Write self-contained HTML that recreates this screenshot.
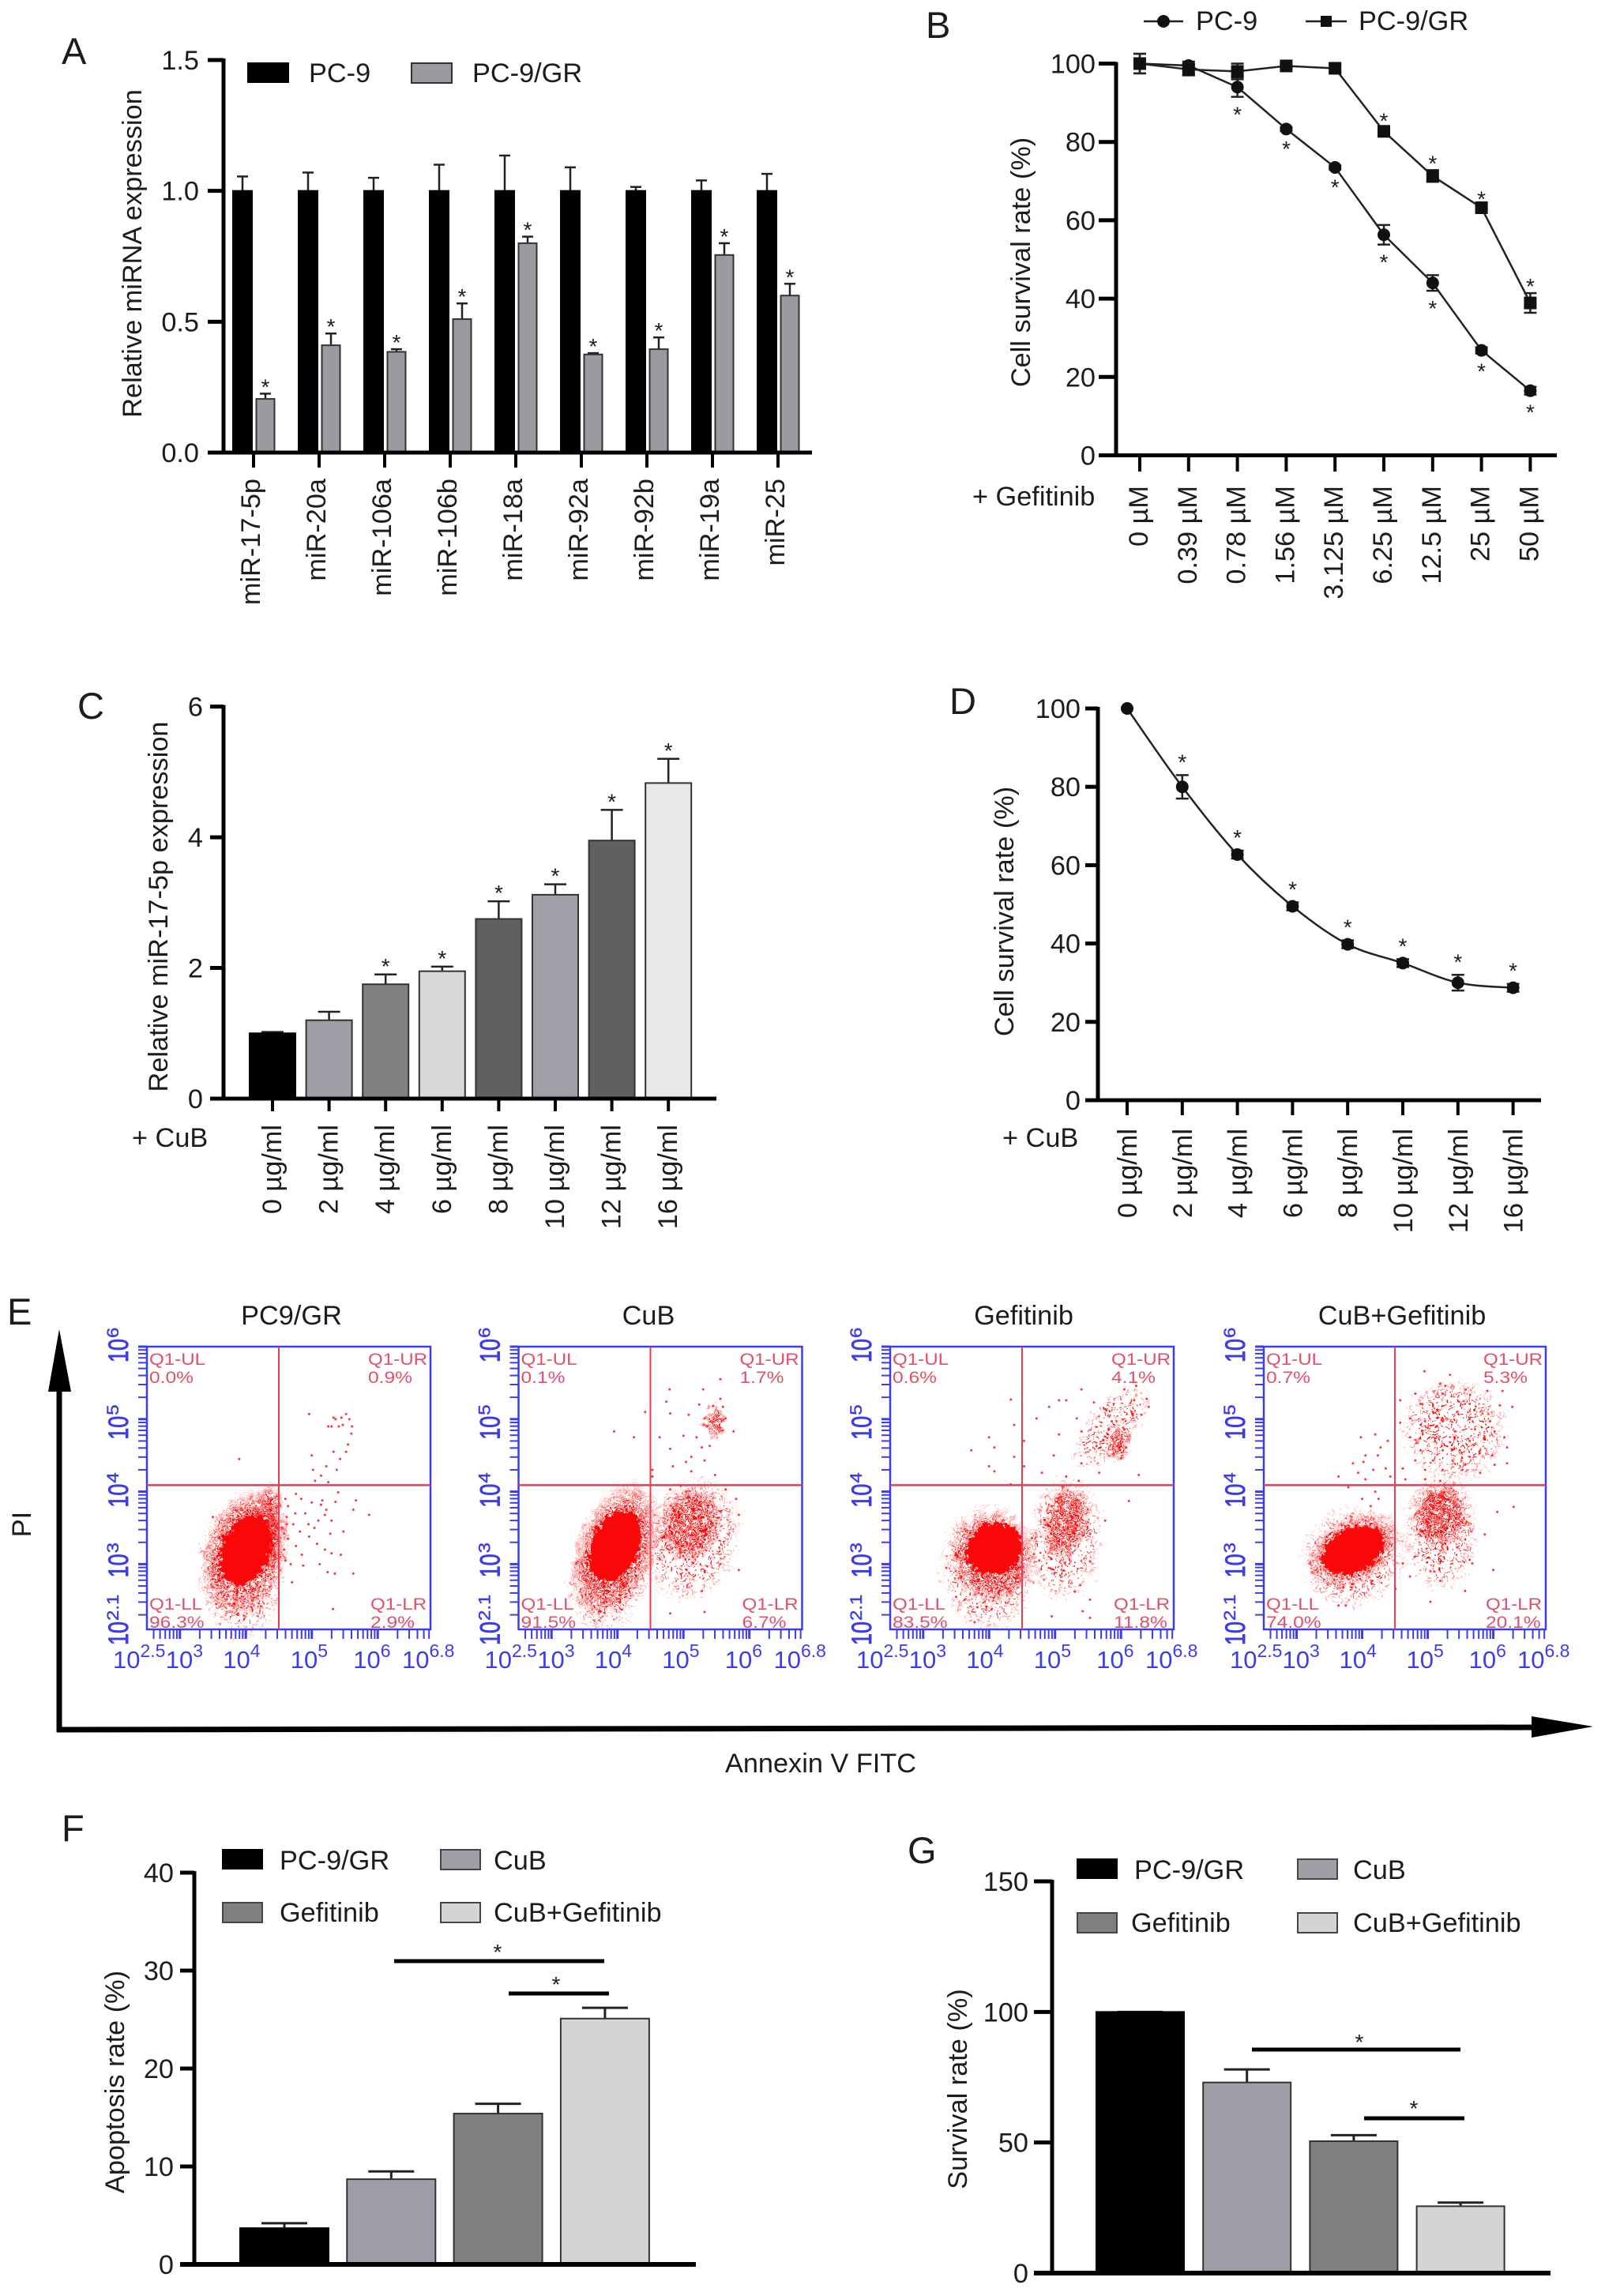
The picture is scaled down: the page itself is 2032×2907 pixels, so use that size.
<!DOCTYPE html>
<html lang="en">
<head>
<meta charset="utf-8">
<title>Figure panels A-G</title>
<style>
html,body{margin:0;padding:0;background:#fff}
svg{display:block}
text{font-family:"Liberation Sans",sans-serif;fill:#1c1c1c;font-size:34.3px}
.letter{font-size:47px}
</style>
</head>
<body>
<svg id="fig" xmlns="http://www.w3.org/2000/svg" width="2032" height="2907" viewBox="0 0 2032 2907">
<defs>
<filter id="coreRough" x="-25%" y="-25%" width="150%" height="150%" color-interpolation-filters="sRGB"><feTurbulence type="fractalNoise" baseFrequency="0.18" numOctaves="2" seed="3" result="n"/><feDisplacementMap in="SourceGraphic" in2="n" scale="18" xChannelSelector="R" yChannelSelector="G"/></filter>
<filter id="jitter" x="-15%" y="-15%" width="130%" height="130%" color-interpolation-filters="sRGB"><feTurbulence type="fractalNoise" baseFrequency="0.12" numOctaves="2" seed="7" result="n"/><feDisplacementMap in="SourceGraphic" in2="n" scale="22" xChannelSelector="R" yChannelSelector="G"/></filter>
<radialGradient id="fadeGrad"><stop offset="0.62" stop-color="#fff"/><stop offset="1" stop-color="#000"/></radialGradient>
<mask id="fadeMask" maskContentUnits="objectBoundingBox" x="0" y="0" width="1" height="1"><rect width="1" height="1" fill="url(#fadeGrad)"/></mask>
<pattern id="stippleLight" width="36" height="34" patternUnits="userSpaceOnUse"></pattern>
<pattern id="stippleDense" width="18" height="17" patternUnits="userSpaceOnUse"></pattern>
</defs>
<rect width="2032" height="2907" fill="#fff"/>

<g id="panel-a">
<text class="letter" x="78" y="81">A</text>
<text transform="translate(179,321) rotate(-90)" text-anchor="middle">Relative miRNA expression</text>
<rect x="313" y="79" width="53" height="26" fill="#000"/>
<text x="391" y="104">PC-9</text>
<rect x="521" y="80" width="51" height="25" fill="#9a9aa0" stroke="#333" stroke-width="2"/>
<text x="598" y="104">PC-9/GR</text>
</g>

<g id="panel-b">
<text class="letter" x="1172" y="48">B</text>
<text transform="translate(1304,332) rotate(-90)" text-anchor="middle">Cell survival rate (%)</text>
<text x="1231" y="640">+ Gefitinib</text>
<line x1="1448" y1="27" x2="1498" y2="27" stroke="#222" stroke-width="2.5"/>
<circle cx="1473" cy="27" r="8" fill="#111"/>
<text x="1514" y="38">PC-9</text>
<line x1="1653" y1="27" x2="1705" y2="27" stroke="#222" stroke-width="2.5"/>
<rect x="1672" y="20" width="14" height="14" fill="#111"/>
<text x="1720" y="38">PC-9/GR</text>
</g>

<g id="panel-c">
<text class="letter" x="98" y="910">C</text>
<text transform="translate(212,1148) rotate(-90)" text-anchor="middle">Relative miR-17-5p expression</text>
<text x="167" y="1452">+ CuB</text>
</g>

<g id="panel-d">
<text class="letter" x="1202" y="904">D</text>
<text transform="translate(1283,1154) rotate(-90)" text-anchor="middle">Cell survival rate (%)</text>
<text x="1269" y="1452">+ CuB</text>
</g>

<g id="panel-e">
<text class="letter" x="9" y="1677">E</text>
<text x="369" y="1677" text-anchor="middle">PC9/GR</text>
<text x="821" y="1677" text-anchor="middle">CuB</text>
<text x="1296" y="1677" text-anchor="middle">Gefitinib</text>
<text x="1775" y="1677" text-anchor="middle">CuB+Gefitinib</text>
<text transform="translate(39,1930) rotate(-90)" text-anchor="middle">PI</text>
<text x="1039" y="2244" text-anchor="middle">Annexin V FITC</text>
<line x1="75" y1="1755" x2="75" y2="2193" stroke="#000" stroke-width="7"/>
<polygon points="75,1683 90,1762 61,1762" fill="#000"/>
<line x1="72" y1="2190" x2="1945" y2="2187" stroke="#000" stroke-width="7"/>
<polygon points="2017,2186 1939,2173 1939,2200" fill="#000"/>
</g>

<g id="panel-f">
<text class="letter" x="78" y="2331">F</text>
<text transform="translate(157,2636) rotate(-90)" text-anchor="middle">Apoptosis rate (%)</text>
<rect x="281" y="2341" width="52" height="26" fill="#000"/>
<text x="354" y="2367">PC-9/GR</text>
<rect x="558" y="2342" width="50" height="25" fill="#9e9ea6" stroke="#444" stroke-width="2"/>
<text x="625" y="2367">CuB</text>
<rect x="282" y="2409" width="50" height="25" fill="#808080" stroke="#444" stroke-width="2"/>
<text x="354" y="2433">Gefitinib</text>
<rect x="558" y="2409" width="50" height="25" fill="#d4d4d4" stroke="#444" stroke-width="2"/>
<text x="625" y="2433">CuB+Gefitinib</text>
<line x1="499" y1="2483" x2="765" y2="2483" stroke="#000" stroke-width="5"/>
<line x1="644" y1="2524" x2="771" y2="2524" stroke="#000" stroke-width="5"/>
<text x="630" y="2481" text-anchor="middle" style="font-size:28px">*</text>
<text x="704" y="2522" text-anchor="middle" style="font-size:28px">*</text>
</g>

<g id="panel-g">
<text class="letter" x="1149" y="2359">G</text>
<text transform="translate(1224,2645) rotate(-90)" text-anchor="middle">Survival rate (%)</text>
<rect x="1363" y="2353" width="52" height="26" fill="#000"/>
<text x="1436" y="2379">PC-9/GR</text>
<rect x="1643" y="2354" width="50" height="25" fill="#9e9ea6" stroke="#444" stroke-width="2"/>
<text x="1713" y="2379">CuB</text>
<rect x="1364" y="2422" width="50" height="25" fill="#808080" stroke="#444" stroke-width="2"/>
<text x="1432" y="2446">Gefitinib</text>
<rect x="1643" y="2422" width="50" height="25" fill="#d4d4d4" stroke="#444" stroke-width="2"/>
<text x="1713" y="2446">CuB+Gefitinib</text>
<line x1="1585" y1="2595" x2="1849" y2="2595" stroke="#000" stroke-width="5"/>
<line x1="1727" y1="2682" x2="1854" y2="2682" stroke="#000" stroke-width="5"/>
<text x="1721" y="2595" text-anchor="middle" style="font-size:28px">*</text>
<text x="1790" y="2679" text-anchor="middle" style="font-size:28px">*</text>
</g>
</svg>

<script>
/* ---------- Panel A data ---------- */
const aCategories = ['miR-17-5p','miR-20a','miR-106a','miR-106b','miR-18a','miR-92a','miR-92b','miR-19a','miR-25'];
const aPc9Values = [1,1,1,1,1,1,1,1,1];
const aPc9ErrorTops = [1.055,1.07,1.05,1.10,1.135,1.09,1.015,1.04,1.065];
const aGrValues = [0.205,0.41,0.385,0.51,0.80,0.375,0.395,0.755,0.60];
const aGrErrorTops = [0.225,0.455,0.395,0.57,0.825,0.38,0.44,0.80,0.645];
const aYTicks = [0,0.5,1,1.5];
const aYLabels = ['0.0','0.5','1.0','1.5'];

/* ---------- Panel B data ---------- */
const bCategories = ['0 µM','0.39 µM','0.78 µM','1.56 µM','3.125 µM','6.25 µM','12.5 µM','25 µM','50 µM'];
const bPc9Values = [100,99.5,94,83.3,73.5,56.3,44,26.8,16.5];
const bPc9Errors = [2.5,1,2.5,0.5,0.5,2.5,2,0.8,1];
const bGrValues = [100,98.5,98,99.4,98.8,82.7,71.3,63.2,38.9];
const bGrErrors = [2.5,1.5,2,0.5,1,1,1.5,0.5,2.5];
const bPc9Stars = [2,3,4,5,6,7,8];
const bGrStars = [5,6,7,8];
const bYTicks = [0,20,40,60,80,100];

/* ---------- Panel C data ---------- */
const cCategories = ['0 µg/ml','2 µg/ml','4 µg/ml','6 µg/ml','8 µg/ml','10 µg/ml','12 µg/ml','16 µg/ml'];
const cValues = [1.0,1.2,1.75,1.95,2.75,3.12,3.95,4.83];
const cErrorTops = [1.02,1.33,1.9,2.02,3.02,3.28,4.42,5.2];
const cFills = ['#000','#9e9ea6','#808080','#d8d8d8','#606060','#a0a0a8','#606060','#e8e8e8'];
const cStars = [2,3,4,5,6,7];
const cYTicks = [0,2,4,6];

/* ---------- Panel D data ---------- */
const dCategories = ['0 µg/ml','2 µg/ml','4 µg/ml','6 µg/ml','8 µg/ml','10 µg/ml','12 µg/ml','16 µg/ml'];
const dValues = [100,80,62.7,49.5,39.8,35,30,28.7];
const dErrors = [0,3,1,1,1,1,2,1];
const dYTicks = [0,20,40,60,80,100];

/* ---------- Panel E data: log10 annexin, log10 PI ---------- */
const flowQuadrants = ['Q1-UL','Q1-UR','Q1-LL','Q1-LR'];
const flowXTicks = [2.5,3,4,5,6,6.8];
const flowXLabels = ['2.5','3','4','5','6','6.8'];
const flowYTicks = [2.1,3,4,5,6];
const flowYLabels = ['2.1','3','4','5','6'];
const flowGateX = 4.5;
const flowGateY = 4.09;

const e1Percent = ['0.0%','0.9%','96.3%','2.9%'];
const e2Percent = ['0.1%','1.7%','91.5%','6.7%'];
const e3Percent = ['0.6%','4.1%','83.5%','11.8%'];
const e4Percent = ['0.7%','5.3%','74.0%','20.1%'];

/* clusters: centre log x, centre log y, spread log x, spread log y, tilt */
const e1Cores = [[4.0,3.19,0.36,0.5,22]];
const e1Dense = [[4.0,3.15,0.5,0.72,15],[4.3,3.5,0.2,0.5,8]];
const e1Light = [[3.93,2.95,0.52,0.8,0]];
const e2Cores = [[3.97,3.25,0.36,0.52,25]];
const e2Dense = [[3.97,3.2,0.47,0.78,20],[5.1,3.55,0.38,0.42,22],[5.48,4.96,0.12,0.2,0]];
const e2Light = [[3.9,2.95,0.5,0.75,15],[5.12,3.35,0.58,0.7,15]];
const e3Cores = [[4.08,3.21,0.44,0.35,-22]];
const e3Dense = [[4.05,3.1,0.52,0.5,-10],[5.17,3.57,0.28,0.42,12],[5.97,4.66,0.13,0.2,12]];
const e3Light = [[3.98,2.95,0.58,0.7,0],[5.15,3.35,0.45,0.7,5],[5.85,4.9,0.28,0.58,40]];
const e4Cores = [[3.87,3.19,0.5,0.3,-28]];
const e4Dense = [[3.87,3.19,0.6,0.36,-28],[5.19,3.67,0.34,0.36,0]];
const e4Light = [[3.87,3.1,0.66,0.55,-25],[5.2,3.45,0.46,0.65,0],[5.4,4.85,0.66,0.56,0]];

const e1Points = [[4.96,5.07],[5.52,5.07],[5.33,5.02],[5.25,4.9],[5.41,4.9],[5.61,4.9],[5.57,5.0],[5.6,4.8],[5.55,4.65],[5.52,4.55],[5.33,4.55],[5.0,4.5],[5.43,4.45],[5.22,4.35],[5.02,4.3],[5.38,4.3],[5.14,4.22],[5.05,4.15],[5.25,4.13],[3.9,4.45],[5.36,5.0],[5.45,5.02],[5.47,4.92],[5.3,4.9],
[4.76,3.97],[5.4,3.99],[5.67,3.88],[5.16,3.88],[5.36,3.86],[4.84,3.9],[4.64,3.8],[5.2,3.68],[5.63,3.75],[5.87,3.68],[4.72,3.55],[5.04,3.5],[5.28,3.42],[5.48,3.45],[4.64,3.35],[4.96,3.38],[4.76,3.25],[5.2,3.2],[4.85,3.13],[5.12,3.0],[4.68,3.0],[4.87,2.98],[5.24,2.89],[5.35,2.87],[5.63,2.87],[5.44,3.13],[5.32,2.38],[4.55,3.5],[4.6,3.05],[4.7,2.75],[4.62,3.65],[4.9,3.7],[5.1,3.6],[5.3,3.6],[4.58,3.2],[5.08,3.28],[5.3,3.15],[5.14,3.82],[3.5,3.65],[3.55,2.45],[3.88,2.32],[4.1,2.5],[4.75,3.7],[4.95,3.55],[4.82,3.45],[5.0,3.85],[5.22,3.75],[4.6,3.9],[4.58,3.42],[4.62,3.55]];
const e2Points = [[5.56,5.55],[4.79,5.41],[5.3,5.41],[4.74,5.24],[5.24,5.2],[5.56,5.28],[5.45,5.18],[5.6,5.17],[4.42,5.1],[4.8,5.08],[5.08,5.06],[5.32,5.01],[5.64,5.01],[5.76,4.83],[5.42,4.97],[5.36,4.9],[5.56,4.88],[3.95,4.83],[4.25,4.75],[4.64,4.75],[5.2,4.75],[5.0,4.77],[5.28,4.61],[5.4,4.63],[4.8,4.59],[5.12,4.48],[5.32,4.43],[4.84,4.35],[5.04,4.41],[5.48,4.23],[5.12,4.28],[4.53,4.3],[4.53,4.21],
[5.64,4.03],[4.96,4.08],[4.8,4.03],[5.84,3.68],[5.8,3.9],[5.84,2.92],[5.32,2.34],[4.8,2.32],[5.28,2.63],[5.36,2.97],[5.56,3.0]];
const e3Points = [[4.33,5.27],[5.4,5.41],[5.17,5.26],[4.91,5.17],[5.06,5.26],[5.59,5.23],[6.05,5.41],[6.23,5.46],[5.89,5.21],[6.2,5.26],[6.39,5.28],[6.42,5.17],[6.16,5.1],[6.31,5.06],[5.78,5.12],[5.33,5.01],[4.72,5.01],[5.06,4.79],[5.4,4.83],[5.86,4.97],[5.82,4.86],[5.93,4.75],[6.0,4.66],[6.08,4.61],[5.63,4.63],[5.89,4.52],[6.0,4.46],[4.38,4.92],[4.0,4.75],[4.08,4.61],[3.73,4.57],[4.38,4.48],[4.98,4.5],[5.4,4.39],[4.0,4.35],[4.08,4.28],[4.53,4.35],[4.33,4.1],[4.8,4.26],[5.17,4.21],[5.36,4.15],[5.67,4.26],[6.27,4.23],[4.53,4.7],[5.1,4.08],
[6.12,3.87],[5.76,3.6],[5.53,3.42],[5.38,2.71],[5.3,2.62],[5.53,2.51],[4.95,2.28],[5.53,2.26],[5.42,2.35],[4.65,3.36],[4.68,3.14],[4.76,3.05],[5.53,3.04],[3.63,2.51],[3.78,2.2],[4.04,2.38],[3.5,2.55],[3.35,2.95]];
const e4Points = [[4.95,5.66],[5.34,5.61],[5.19,5.49],[5.27,5.46],[5.58,5.41],[5.91,5.39],[6.14,5.39],[4.81,5.35],[5.23,5.35],[4.58,5.26],[4.89,5.21],[5.08,5.19],[5.64,5.21],[5.45,5.1],[6.1,5.19],[6.29,5.17],[5.08,5.1],[4.73,5.01],[4.58,4.95],[4.96,4.97],[5.23,4.97],[5.64,5.01],[5.95,4.97],[5.0,4.88],[5.42,4.83],[5.72,4.86],[6.02,4.83],[4.73,4.75],[5.11,4.7],[5.34,4.68],[5.64,4.7],[6.17,4.75],[6.21,4.61],[4.89,4.57],[5.23,4.57],[5.49,4.57],[5.8,4.57],[5.98,4.5],[4.81,4.43],[5.08,4.43],[5.38,4.43],[5.64,4.48],[6.02,4.37],[6.21,4.39],[4.62,4.32],[4.96,4.3],[5.23,4.3],[5.53,4.3],[5.8,4.26],[4.96,4.17],[5.19,4.15],[4.66,4.17],[5.57,4.37],[3.98,4.75],[4.2,4.79],[4.28,4.61],[4.39,4.7],[4.05,4.5],[4.24,4.5],[3.86,4.39],[4.02,4.41],[4.17,4.3],[4.36,4.32],[3.64,4.21],[3.94,4.26],[4.43,4.21],[3.79,4.06],[4.05,4.17],
[5.04,2.48],[6.06,3.72],[6.31,3.79],[5.87,3.41],[5.64,3.06],[5.68,3.01],[5.45,3.23],[4.73,2.83],[5.19,2.77],[5.57,2.63],[4.62,3.01],[6.0,2.92],[4.51,2.66],[4.8,3.1],[5.1,2.9],[3.75,2.43],[3.64,2.43],[4.13,3.8],[4.25,3.9],[4.05,3.6],[4.2,4.0],[4.0,3.9]];

/* ---------- Panel F / G data ---------- */
const fValues = [3.7,8.7,15.4,25.1];
const fErrorTops = [4.2,9.5,16.4,26.2];
const fYTicks = [0,10,20,30,40];
const gValues = [100,73,50.5,25.6];
const gErrorTops = [100,78,52.8,27];
const gYTicks = [0,50,100,150];
const summaryFills = ['#000','#9e9ea6','#808080','#d4d4d4'];

/* decorative stipple tile */
const stippleTile = [[2,3],[9,1],[17,4],[25,2],[32,6],[5,9],[13,11],[21,8],[29,12],[1,15],[8,17],[16,15],[24,18],[33,19],[4,23],[12,22],[20,25],[28,24],[7,29],[15,30],[23,31],[31,29],[11,6],[19,20],[27,28],[3,32]];

/* ---------- helpers ---------- */
const SVGNS = 'http://www.w3.org/2000/svg';
const INK = '#222';
function mk(tag, attrs, parent, content) {
  const n = document.createElementNS(SVGNS, tag);
  for (const k in attrs) n.setAttribute(k, attrs[k]);
  if (content !== undefined) n.textContent = content;
  parent.appendChild(n);
  return n;
}
function axisLine(parent, x1, y1, x2, y2, w) {
  const n = mk('line', {x1, y1, x2, y2, stroke: '#000', 'stroke-width': w}, parent);
  
  
}
function yAxis(parent, ticks, labels, scale, axisX, tickX, labelEnd) {
  axisLine(parent, axisX, scale(ticks[ticks.length - 1]) - 2, axisX, scale(ticks[0]) + 2, 5);
  ticks.forEach((t, i) => {
    const y = scale(t);
    const tick = mk('line', {x1: tickX, y1: y, x2: axisX, y2: y, stroke: '#000', 'stroke-width': 5}, parent);
    
    
    const lab = mk('text', {x: labelEnd, y: y + 12, 'text-anchor': 'end'}, parent, labels[i]);
    
    
  });
}
function xTicks(parent, cats, xf, y0, tickEnd, labelTop, labelShift) {
  cats.forEach((c, i) => {
    const x = xf(i);
    const tick = mk('line', {x1: x, y1: y0, x2: x, y2: tickEnd, stroke: '#000', 'stroke-width': 4}, parent);
    
    
    const lab = mk('text', {transform: `translate(${x + labelShift},${labelTop}) rotate(-90)`, 'text-anchor': 'end'}, parent, c);
    
    
  });
}
function bar(parent, cx, w, yTop, yBase, fill) {
  const r = mk('rect', {x: cx - w / 2, y: yTop, width: w, height: yBase - yTop, fill, stroke: fill === '#000' ? '#000' : '#333', 'stroke-width': 2}, parent);
  
  
}
function errorUp(parent, cx, yFrom, yTo, cap, w) {
  const s = mk('line', {x1: cx, y1: yFrom, x2: cx, y2: yTo, stroke: INK, 'stroke-width': w}, parent);
  
  
  const c = mk('line', {x1: cx - cap / 2, y1: yTo, x2: cx + cap / 2, y2: yTo, stroke: INK, 'stroke-width': w}, parent);
  
  
}
function star(parent, x, yCentre) {
  const s = mk('text', {x, y: yCentre + 17, 'text-anchor': 'middle', style: 'font-size:28px'}, parent, '*');
  
  
}
function trace(parent, pts) {
  const l = mk('polyline', {points: pts.map(p => p.join(',')).join(' '), fill: 'none', stroke: INK, 'stroke-width': 2.5}, parent);
  
  
}
function smoothTrace(parent, pts) {
  let d = `M${pts[0][0]},${pts[0][1]}`;
  for (let i = 0; i < pts.length - 1; i++) {
    const p0 = pts[Math.max(i - 1, 0)], p1 = pts[i], p2 = pts[i + 1], p3 = pts[Math.min(i + 2, pts.length - 1)];
    d += ` C${p1[0] + (p2[0] - p0[0]) / 6},${p1[1] + (p2[1] - p0[1]) / 6} ${p2[0] - (p3[0] - p1[0]) / 6},${p2[1] - (p3[1] - p1[1]) / 6} ${p2[0]},${p2[1]}`;
  }
  const l = mk('path', {d, fill: 'none', stroke: INK, 'stroke-width': 2.5}, parent);
  
  
}
function dot(parent, x, y) {
  const c = mk('circle', {cx: x, cy: y, r: 8, fill: '#111'}, parent);
  
  
}
function square(parent, x, y) {
  const r = mk('rect', {x: x - 8, y: y - 8, width: 16, height: 16, fill: '#111'}, parent);
  
  
}
function vError(parent, x, y1, y2) {
  const s = mk('line', {x1: x, y1, x2: x, y2, stroke: INK, 'stroke-width': 2.5}, parent);
  
  
  [y1, y2].forEach(y => {
    const c = mk('line', {x1: x - 8, y1: y, x2: x + 8, y2: y, stroke: INK, 'stroke-width': 2.5}, parent);
    
    
  });
}

/* ---------- stipple patterns ---------- */
stippleTile.forEach(p => {
  mk('circle', {cx: p[0], cy: p[1], r: 1.5, fill: '#f11'}, document.getElementById('stippleLight'));
  mk('circle', {cx: p[0] / 2, cy: p[1] / 2, r: 1.3, fill: '#f00'}, document.getElementById('stippleDense'));
});

/* ---------- Panel A ---------- */
(function () {
  const g = document.getElementById('panel-a');
  const y = v => 573 - v / 1.5 * 497;
  const x = i => 321 + 83 * i;
  aCategories.forEach((c, i) => {
    errorUp(g, x(i) - 14, y(aPc9Values[i]), y(aPc9ErrorTops[i]), 14, 2.5);
    bar(g, x(i) - 14, 24, y(aPc9Values[i]), y(0), '#000');
    errorUp(g, x(i) + 15, y(aGrValues[i]), y(aGrErrorTops[i]), 14, 2.5);
    bar(g, x(i) + 15, 23, y(aGrValues[i]), y(0), '#9a9aa0');
    star(g, x(i) + 15, y(aGrErrorTops[i]) - 16);
  });
  yAxis(g, aYTicks, aYLabels, y, 283, 263, 252);
  axisLine(g, 263, 573, 1028, 573, 5);
  xTicks(g, aCategories, x, 573, 592, 606, 8);
})();

/* ---------- Panel B ---------- */
(function () {
  const g = document.getElementById('panel-b');
  const y = v => 576.5 - v / 100 * 496;
  const x = i => 1443 + 61.8 * i;
  trace(g, bPc9Values.map((v, i) => [x(i), y(v)]));
  trace(g, bGrValues.map((v, i) => [x(i), y(v)]));
  bCategories.forEach((c, i) => {
    vError(g, x(i), y(bPc9Values[i] + bPc9Errors[i]), y(bPc9Values[i] - bPc9Errors[i]));
    dot(g, x(i), y(bPc9Values[i]));
    vError(g, x(i), y(bGrValues[i] + bGrErrors[i]), y(bGrValues[i] - bGrErrors[i]));
    square(g, x(i), y(bGrValues[i]));
  });
  bPc9Stars.forEach(i => star(g, x(i), y(bPc9Values[i] - bPc9Errors[i]) + 15));
  bGrStars.forEach(i => star(g, x(i), y(bGrValues[i] + bGrErrors[i]) - 16));
  yAxis(g, bYTicks, bYTicks.map(String), y, 1413, 1391, 1387);
  axisLine(g, 1391, 576.5, 1971, 576.5, 5);
  xTicks(g, bCategories, x, 576.5, 597, 615, 10);
})();

/* ---------- Panel C ---------- */
(function () {
  const g = document.getElementById('panel-c');
  const y = v => 1391 - v / 6 * 496.4;
  const x = i => 345 + 71.6 * i;
  cCategories.forEach((c, i) => {
    errorUp(g, x(i), y(cValues[i]), y(cErrorTops[i]), 28, 2.5);
    bar(g, x(i), 58, y(cValues[i]), y(0), cFills[i]);
  });
  cStars.forEach(i => star(g, x(i), y(cErrorTops[i]) - 18));
  yAxis(g, cYTicks, cYTicks.map(String), y, 283, 266, 257);
  axisLine(g, 266, 1391, 907, 1391, 5);
  xTicks(g, cCategories, x, 1391, 1407, 1424, 11);
})();

/* ---------- Panel D ---------- */
(function () {
  const g = document.getElementById('panel-d');
  const y = v => 1393 - v / 100 * 496;
  const x = i => 1427 + 69.8 * i;
  smoothTrace(g, dValues.map((v, i) => [x(i), y(v)]));
  dValues.forEach((v, i) => {
    if (dErrors[i]) vError(g, x(i), y(v + dErrors[i]), y(v - dErrors[i]));
    dot(g, x(i), y(v));
    if (i > 0) star(g, x(i), y(v + dErrors[i]) - 24);
  });
  yAxis(g, dYTicks, dYTicks.map(String), y, 1390, 1374, 1368);
  axisLine(g, 1374, 1393, 1951, 1393, 5);
  xTicks(g, dCategories, x, 1393, 1412, 1429, 12);
})();

/* ---------- Panel E ---------- */
function flowPlot(left, width, percent, cores, dense, light, points) {
  const parent = document.getElementById('panel-e');
  const g = mk('g', {}, parent);
  
  
  const top = 1705, bottom = 2063;
  const xs = v => left + (v - 2.5) / 4.3 * width;
  const ys = v => bottom - (v - 2.1) / 3.9 * (bottom - top);
  const pxX = width / 4.3, pxY = (bottom - top) / 3.9;
  const BLUE = '#3c3ce8', RED = '#e0506a', GATE = '#e43c52';

  const cloudGroup = mk('g', {filter: 'url(#jitter)'}, g);
  
  
  function cloud(c, fill) {
    return mk('ellipse', {cx: xs(c[0]), cy: ys(c[1]), rx: c[2] * pxX * 1.3, ry: c[3] * pxY * 1.3, fill,
      mask: 'url(#fadeMask)', transform: `rotate(${c[4]} ${xs(c[0])} ${ys(c[1])})`}, cloudGroup);
  }
  light.forEach(c => {
    const e = cloud(c, 'url(#stippleLight)');
    
    
  });
  dense.forEach(c => {
    const e = cloud(c, 'url(#stippleDense)');
    
    
  });
  cores.forEach(c => {
    const e = mk('ellipse', {cx: xs(c[0]), cy: ys(c[1]), rx: c[2] * pxX, ry: c[3] * pxY, fill: '#f80808',
      transform: `rotate(${c[4]} ${xs(c[0])} ${ys(c[1])})`, filter: 'url(#coreRough)'}, g);
    
    
  });
  points.forEach(p => {
    const d = mk('circle', {cx: xs(p[0]), cy: ys(p[1]), r: 1.5, fill: '#f33'}, g);
    
    
  });

  const frame = mk('rect', {x: left, y: top, width, height: bottom - top, fill: 'none', stroke: BLUE, 'stroke-width': 2.5}, g);
  
  
  const gateV = mk('line', {x1: xs(flowGateX), y1: top, x2: xs(flowGateX), y2: bottom, stroke: GATE, 'stroke-width': 2}, g);
  
  
  const gateH = mk('line', {x1: left, y1: ys(flowGateY), x2: left + width, y2: ys(flowGateY), stroke: GATE, 'stroke-width': 2.5}, g);
  
  

  /* log ticks */
  for (let d = 2; d <= 6; d++) {
    for (let k = 1; k <= 9; k++) {
      const lv = d + Math.log10(k);
      if (lv >= 2.5 && lv <= 6.8) {
        const tx = mk('line', {x1: xs(lv), y1: bottom, x2: xs(lv), y2: bottom + 12, stroke: BLUE, 'stroke-width': k === 1 ? 3 : 2}, g);
        
        
      }
      if (lv >= 2.1 && lv <= 6) {
        const ty = mk('line', {x1: left - 11, y1: ys(lv), x2: left, y2: ys(lv), stroke: BLUE, 'stroke-width': k === 1 ? 3 : 2}, g);
        
        
      }
    }
  }
  /* x labels */
  const xNudge = [-43, -18, -29, -27, -31, -36];
  flowXTicks.forEach((t, i) => {
    const lab = mk('text', {x: xs(t) + xNudge[i], y: 2112, style: `fill:${BLUE};font-size:31px`}, g);
    
    
    mk('tspan', {}, lab, '10');
    mk('tspan', {dy: -14, style: `fill:${BLUE};font-size:23px`}, lab, flowXLabels[i]);
  });
  /* y labels */
  const yNudge = [20, 17, 20, 26, 20];
  flowYTicks.forEach((t, i) => {
    const start = ys(t) + yNudge[i];
    const lab = mk('text', {transform: `translate(${left - 24},${start}) rotate(-90) scale(1,1.3)`, style: `fill:${BLUE};font-size:27px;stroke:${BLUE};stroke-width:0.7px`}, g, '10');
    
    
    const sup = mk('text', {transform: `translate(${left - 36},${start - 31}) rotate(-90) scale(1,0.9)`, style: `fill:${BLUE};font-size:24px;stroke:${BLUE};stroke-width:0.5px`}, g, flowYLabels[i]);
    
    
  });
  /* quadrant labels */
  flowQuadrants.forEach((q, i) => {
    const isRight = i % 2 === 1, isBottom = i >= 2;
    const xp = isRight ? left + width - (isBottom ? 76 : 79) : left + 3;
    const y1 = isBottom ? 2038 : 1728, y2 = isBottom ? 2061 : 1751;
    const tq = mk('text', {transform: `translate(${xp},${y1}) scale(1.15,1)`, style: `fill:${RED};font-size:21px`}, g, q);
    
    
    const tp = mk('text', {transform: `translate(${xp},${y2}) scale(1.17,1)`, style: `fill:${RED};font-size:21px`}, g, percent[i]);
    
    
  });
}
flowPlot(186, 359, e1Percent, e1Cores, e1Dense, e1Light, e1Points);
flowPlot(656.5, 359, e2Percent, e2Cores, e2Dense, e2Light, e2Points);
flowPlot(1127, 359, e3Percent, e3Cores, e3Dense, e3Light, e3Points);
flowPlot(1600, 357, e4Percent, e4Cores, e4Dense, e4Light, e4Points);

/* ---------- Panel F ---------- */
(function () {
  const g = document.getElementById('panel-f');
  const y = v => 2867 - v / 40 * 496;
  const x = i => 360 + 135.3 * i;
  fValues.forEach((v, i) => {
    errorUp(g, x(i), y(v), y(fErrorTops[i]), 58, 3);
    bar(g, x(i), 112, y(v), y(0), summaryFills[i]);
  });
  yAxis(g, fYTicks, fYTicks.map(String), y, 246, 228, 220);
  axisLine(g, 228, 2867, 881, 2867, 6);
})();

/* ---------- Panel G ---------- */
(function () {
  const g = document.getElementById('panel-g');
  const y = v => 2878 - v / 150 * 496;
  const x = i => 1443.5 + 135.2 * i;
  gValues.forEach((v, i) => {
    errorUp(g, x(i), y(v), y(gErrorTops[i]), 58, 3);
    bar(g, x(i), 111, y(v), y(0), summaryFills[i]);
  });
  yAxis(g, gYTicks, gYTicks.map(String), y, 1332, 1309, 1302);
  axisLine(g, 1309, 2878, 1963, 2878, 6);
})();
</script>
</body>
</html>
